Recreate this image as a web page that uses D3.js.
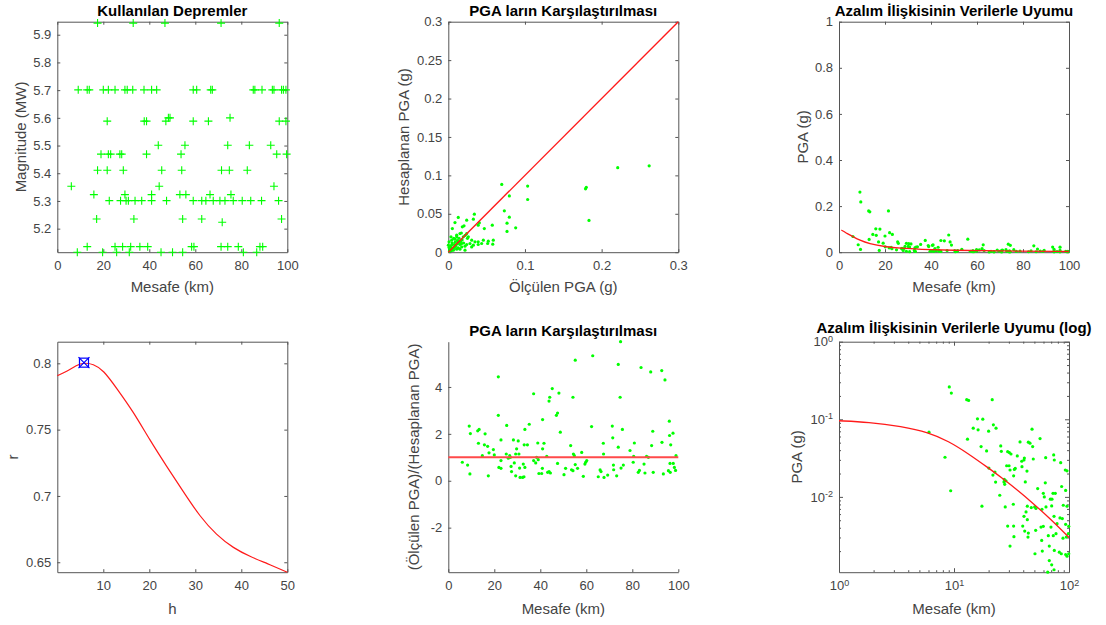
<!DOCTYPE html>
<html>
<head>
<meta charset="utf-8">
<script src="https://cdn.jsdelivr.net/npm/d3@7"></script>
<style>
body { margin: 0; background: #fff; }
svg text { font-family: "Liberation Sans", Arial, Helvetica, sans-serif; }
.ax path.domain { stroke: #555; stroke-width: 1; }
.ax .tick line { stroke: #555; }
.ax .tick text { font-size: 13px; fill: #444; }
</style>
</head>
<body>
<script>
// --- panel 1: earthquakes used (magnitude levels and distances at each level)
const magLevels = [5.942, 5.701, 5.600, 5.588, 5.501, 5.469, 5.411, 5.353, 5.323, 5.301, 5.235, 5.223, 5.135, 5.115];
const magDistances = [
    [17.5, 33.0, 46.8, 71.2, 96.5],
    [9.1, 13.0, 13.9, 20.0, 22.2, 25.1, 29.4, 30.4, 32.8, 37.7, 41.0, 43.2, 59.1, 60.6, 66.7, 67.4, 85.2, 85.9, 89.0, 93.5, 94.2, 97.5, 98.3, 99.4],
    [48.3, 49.0, 75.1],
    [21.7, 37.8, 38.8, 47.2, 59.1, 65.7, 96.5, 99.4],
    [43.9, 55.5, 74.1, 83.5, 92.8],
    [19.0, 22.2, 23.2, 27.2, 28.0, 38.8, 53.8, 95.4, 99.7],
    [17.5, 21.7, 28.7, 45.4, 54.1, 71.4, 74.8, 82.6],
    [6.1, 44.3, 94.2],
    [15.9, 29.4, 41.0, 53.3, 55.9, 66.4, 75.5],
    [22.6, 27.5, 29.9, 30.9, 33.8, 36.7, 41.0, 47.5, 59.1, 62.8, 64.6, 67.8, 70.7, 72.9, 76.5, 80.4, 84.1, 88.8, 96.2],
    [17.1, 33.3, 54.5, 62.8, 97.5],
    [71.7],
    [13.0, 25.1, 28.4, 31.9, 35.9, 39.3, 58.4, 59.4, 71.2, 74.1, 78.7, 88.1, 89.3],
    [8.7, 19.7, 25.8, 31.3, 45.1, 50.1, 54.5, 80.9, 86.7]
];

// --- panel 2: measured vs predicted PGA (g)
const measuredPGA = [0.262, 0.221, 0.179, 0.180, 0.1835, 0.0697, 0.1035, 0.1035, 0.0796, 0.0731, 0.0796, 0.0766, 0.0766, 0.0879,
    0.013, 0.0053, 0.0087, 0.0183, 0.0205, 0.024, 0.034, 0.0327, 0.039, 0.0405, 0.047, 0.0574,
    0.039, 0.0457, 0.0522, 0.0587, 0.058, 0.0513, 0.0435, 0.0348, 0.0305, 0.0283, 0.024, 0.0174, 0.013, 0.0087, 0.0044, 0.001,
    0.0044, 0.0087, 0.013, 0.0174, 0.0218, 0.0022, 0.0066, 0.0109, 0.0152, 0.0001, 0.0196, 0.024, 0.0152, 0.0109, 0.0035,
    0.0261, 0.0327, 0.0305, 0.039, 0.0218, 0.0152,
    0.002, 0.004, 0.006, 0.003, 0.008, 0.005, 0.01, 0.012, 0.007, 0.015, 0.018, 0.02, 0.003, 0.001, 0.009, 0.014, 0.022,
    0.025, 0.017, 0.011, 0.0015, 0.0045, 0.0075, 0.012, 0.016];
const predictedPGA = [0.1124, 0.110, 0.0825, 0.0845, 0.0413, 0.0882, 0.086, 0.0686, 0.0733, 0.0538, 0.0456, 0.0378, 0.027, 0.0317,
    0.0452, 0.0308, 0.0386, 0.033, 0.0343, 0.0417, 0.0495, 0.043, 0.0352, 0.0382, 0.0308, 0.0352,
    0.0135, 0.0156, 0.0143, 0.0156, 0.0104, 0.0113, 0.0113, 0.0135, 0.0156, 0.0113, 0.01, 0.0113, 0.0135, 0.017, 0.0156, 0.0135,
    0.0091, 0.0069, 0.0056, 0.0069, 0.0078, 0.0048, 0.0026, 0.0039, 0.0039, 0.0091, 0.02, 0.0243, 0.0243, 0.0222, 0.02,
    0.02, 0.0091, 0.0069, 0.01, 0.0026, 0.01,
    0.003, 0.005, 0.004, 0.008, 0.01, 0.012, 0.008, 0.015, 0.018, 0.012, 0.016, 0.012, 0.002, 0.006, 0.013, 0.018, 0.022,
    0.018, 0.025, 0.02, 0.0015, 0.0025, 0.0055, 0.011, 0.014];
const diagonal = [0, 0.3];

// --- panels 3 and 6: recorded PGA against distance, and the fitted attenuation curve
const recDistance = [9.1, 9.48, 12.9, 13.4, 21.5, 16.0, 17.8, 14.7, 16.2, 22.0,
    23.2, 20.0, 47.7, 6.06, 13.1, 17.2, 19.2, 25.5, 25.8, 37.5,
    44.3, 45.8, 48.3, 56.0, 29.3, 30.3, 31.3, 35.5, 40.9, 38.8,
    40.6, 48.9, 62.7, 73.6, 74.5, 84.7, 8.35, 28.7, 30.1, 34.1,
    33.5, 30.7, 43.1, 39.0, 20.1, 22.7, 21.8, 27.4, 27.2, 27.6,
    28.3, 23.0, 41.7, 33.0, 62.2, 92.9, 96.1, 9.36, 25.0, 53.4,
    59.8, 61.0, 72.6, 76.0, 68.8, 71.1, 86.3, 93.5, 17.5, 27.9,
    32.8, 43.4, 42.3, 47.0, 50.3, 51.6, 58.2, 63.1, 70.7, 89.2,
    96.1, 40.6, 43.4, 74.1, 83.5, 87.5, 29.3, 33.0, 39.6, 57.1,
    59.8, 69.7, 78.7, 93.5, 99.5, 41.2, 44.3, 51.3, 66.1, 73.0,
    77.1, 88.7, 94.8, 98.6, 33.2, 30.7, 44.0, 57.9, 50.6, 58.6,
    67.4, 74.5, 82.4, 85.7, 93.5, 96.1, 99.5, 67.4, 70.7, 74.1, 65.3];
const recPGA = [0.261, 0.218, 0.179, 0.175, 0.179, 0.1015, 0.1005, 0.0769, 0.0731, 0.0849,
    0.0769, 0.0703, 0.0746, 0.0682, 0.0554, 0.0445, 0.0391, 0.0454, 0.0387, 0.0511,
    0.0507, 0.0492, 0.0445, 0.0565, 0.0383, 0.0372, 0.0357, 0.0337, 0.0317, 0.0288,
    0.0299, 0.0308, 0.0320, 0.0347, 0.0299, 0.0276, 0.0324, 0.0252, 0.0252, 0.0233,
    0.0226, 0.0222, 0.0215, 0.0245, 0.0235, 0.0209, 0.0191, 0.0168, 0.0156, 0.0145,
    0.0161, 0.0155, 0.0156, 0.0187, 0.0152, 0.0222, 0.0217, 0.0120, 0.0105, 0.0128,
    0.0111, 0.0100, 0.0111, 0.0111, 0.00933, 0.00933, 0.0136, 0.0121, 0.00758, 0.00742,
    0.00804, 0.00758, 0.00640, 0.00729, 0.00742, 0.00708, 0.00693, 0.00742, 0.00764, 0.00780,
    0.00758, 0.00562, 0.00509, 0.00562, 0.00535, 0.00525, 0.00421, 0.00421, 0.00421, 0.00408,
    0.00417, 0.00408, 0.00452, 0.00443, 0.00417, 0.00363, 0.00342, 0.00371, 0.00316, 0.00316,
    0.00336, 0.00294, 0.00303, 0.00336, 0.00307, 0.00232, 0.00303, 0.00275, 0.00185, 0.00200,
    0.00232, 0.00204, 0.00194, 0.00185, 0.00181, 0.00172, 0.00185, 0.00151, 0.00133, 0.00115, 0.00107];
const fitDistance = [1, 1.8, 3.5, 6, 9, 13, 20, 27, 35, 49, 68, 100];
const fitPGA = [0.0957, 0.092, 0.081, 0.068, 0.052, 0.037, 0.0235, 0.0169, 0.0125, 0.0082, 0.0053, 0.0030];

// --- panel 4: correlation r against depth h
const hValues = [0, 2, 4.2, 5.8, 7.8, 10, 12.9, 16.5, 20.1, 23.8, 27.4, 31, 34.6, 38.3, 41.9, 45.5, 50];
const rValues = [0.7907, 0.7937, 0.7987, 0.8005, 0.7995, 0.795, 0.7812, 0.7636, 0.7422, 0.7221, 0.7033, 0.6844, 0.6706, 0.6606, 0.6543, 0.6492, 0.6425];
const bestH = [5.8];
const bestR = [0.8005];

// --- panel 5: measured / predicted ratio against distance
const ratioDistance = [6.1, 8.4, 9.4, 9.1, 9.6, 12.8, 13.4, 13.1, 14.8, 16.0,
    15.7, 17.1, 17.7, 17.4, 19.6, 20.0, 21.75, 21.75, 22.9, 22.0,
    22.9, 22.9, 25.4, 25.2, 26.1, 26.7, 27.0, 27.3, 27.5, 28.3,
    28.7, 29.3, 29.7, 29.3, 30.4, 30.7, 31.0, 31.2, 32.3, 32.9,
    33.0, 32.6, 33.3, 33.3, 34.4, 35.2, 37.1, 37.1, 38.0, 38.4,
    38.9, 39.1, 39.4, 40.6, 41.0, 41.0, 40.9, 41.6, 42.8, 43.2,
    43.8, 44.4, 43.8, 44.1, 45.2, 47.0, 47.5, 48.1, 48.7, 47.5,
    50.3, 51.0, 53.2, 53.6, 54.2, 54.2, 54.4, 54.8, 55.2, 55.2,
    56.2, 58.0, 58.7, 59.4, 59.7, 60.2, 62.3, 62.8, 65.2, 66.0,
    66.4, 67.4, 67.5, 67.7, 69.3, 71.3, 71.5, 71.8, 71.9, 73.2,
    73.9, 73.9, 74.7, 74.9, 75.1, 75.7, 76.1, 79.0, 80.6, 80.9,
    80.4, 82.6, 83.1, 83.8, 85.1, 85.5, 86.2, 87.0, 88.4, 88.9,
    89.1, 88.0, 92.8, 92.9, 93.5, 94.2, 95.7, 96.1, 96.2, 96.4,
    96.5, 96.7, 97.7, 97.8, 98.3, 98.8, 99.0];
const ratioValue = [0.79, 0.67, 0.29, 2.33, 2.01, 2.13, 2.19, 1.6, 1.07, 2.0,
    1.53, 1.47, 1.19, 0.21, 1.33, 1.1, 4.43, 2.79, 1.74, 0.57,
    0.53, 0.86, 2.36, 1.14, 0.96, 1.07, 1.0, 0.61, 0.39, 1.74,
    0.76, 0.21, 1.36, 1.14, 1.7, 1.14, 0.54, 0.14, 0.14, 0.17,
    1.53, 0.71, 0.57, 2.19, 1.53, 2.41, 3.71, 0.86, 0.76, 1.0,
    1.61, 0.9, 0.31, 0.31, 1.36, 2.61, 0.53, 1.6, 1.04, 0.36,
    0.39, 0.33, 3.4, 3.56, 3.93, 2.79, 2.89, 3.74, 2.07, 0.74,
    0.26, 0.53, 1.5, 0.47, 0.43, 3.56, 1.14, 1.07, 5.14, 0.69,
    0.53, 1.21, 0.19, 0.71, 0.79, 0.86, 2.31, 5.33, 0.17, 0.46,
    0.39, 1.6, 1.14, 0.14, 0.24, 2.33, 1.83, 0.67, 0.47, 0.21,
    1.43, 4.96, 3.56, 5.93, 0.54, 2.19, 0.67, 1.29, 1.04, 1.61,
    0.79, 0.36, 0.44, 4.83, 0.71, 0.33, 1.04, 1.0, 1.5, 2.11,
    0.36, 4.64, 4.7, 1.64, 0.29, 4.3, 0.43, 2.54, 1.93, 0.74,
    0.36, 1.53, 2.03, 0.74, 0.57, 0.44, 1.07];
const unityX = [0, 100];
const unityY = [1, 1];

const GREEN = '#00ff00';
const RED = '#ff1a1a';
const PW = 230, PH = 230.5;
const colX = [57.3, 448.3, 839];
const rowY = [21.7, 341.7];

var svg = d3.select('body')
    .append('svg')
    .attr('width', 1106)
    .attr('height', 625);

function panel(col, row) {
    return svg.append('g')
        .attr('transform', 'translate(' + colX[col] + ',' + rowY[row] + ')');
}

const fmt = d => String(+d.toFixed(3));
const none = () => '';

// MATLAB-ish box: ticks point inwards, optional top/right copies
function addAxes(g, xs, ys, o) {
    let bottom = g.append('g').attr('class', 'ax')
        .attr('transform', 'translate(0,' + PH + ')')
        .call(d3.axisBottom(xs).tickValues(o.xTicks).tickFormat(o.xFmt || fmt)
            .tickSizeInner(-3).tickSizeOuter(0).tickPadding(9));
    let left = g.append('g').attr('class', 'ax')
        .call(d3.axisLeft(ys).tickValues(o.yTicks).tickFormat(o.yFmt || fmt)
            .tickSizeInner(-3).tickSizeOuter(0).tickPadding(6));
    let all = [bottom, left];
    if (o.box) {
        all.push(g.append('g').attr('class', 'ax')
            .call(d3.axisTop(xs).tickValues(o.xTicks).tickFormat(none)
                .tickSizeInner(-3).tickSizeOuter(0)));
        all.push(g.append('g').attr('class', 'ax')
            .attr('transform', 'translate(' + PW + ',0)')
            .call(d3.axisRight(ys).tickValues(o.yTicks).tickFormat(none)
                .tickSizeInner(-3).tickSizeOuter(0)));
    }
    return {bottom: bottom, left: left, all: all};
}

function labels(g, title, xLabel, yLabel, yOff, xOff, tOff) {
    if (title) {
        g.append('text').attr('x', PW / 2).attr('y', tOff || -6)
            .attr('text-anchor', 'middle').attr('font-size', '15px')
            .attr('font-weight', 'bold').attr('fill', '#000').text(title);
    }
    g.append('text').attr('x', PW / 2).attr('y', PH + xOff)
        .attr('text-anchor', 'middle').attr('font-size', '15px')
        .attr('fill', '#444').text(xLabel);
    g.append('text')
        .attr('transform', 'translate(' + yOff + ',' + (PH / 2) + ') rotate(-90)')
        .attr('text-anchor', 'middle').attr('font-size', '15px')
        .attr('fill', '#444').text(yLabel);
}

function dots(g, xs, ys, xv, yv) {
    g.append('g').selectAll('circle')
        .data(xv.map((x, i) => ({x: x, y: yv[i]})))
        .enter()
        .append('circle')
        .attr('cx', d => xs(d.x))
        .attr('cy', d => ys(d.y))
        .attr('r', 1.6)
        .attr('fill', GREEN);
}

function curve(g, xs, ys, xv, yv, color, width, shape) {
    let line = d3.line()
        .x(d => xs(d[0]))
        .y(d => ys(d[1]))
        .curve(shape || d3.curveLinear);
    g.append('path')
        .datum(xv.map((x, i) => [x, yv[i]]))
        .attr('d', line)
        .attr('fill', 'none')
        .attr('stroke', color)
        .attr('stroke-width', width);
}

const ticks100 = [0, 20, 40, 60, 80, 100];

// ---------- panel 1
{
    let g = panel(0, 0);
    let x = d3.scaleLinear().domain([0, 100]).range([0, PW]);
    let y = d3.scaleLinear().domain([5.115, 5.947]).range([PH, 0]);
    addAxes(g, x, y, {xTicks: ticks100, yTicks: [5.2, 5.3, 5.4, 5.5, 5.6, 5.7, 5.8, 5.9],
        yFmt: d => d.toFixed(1), box: true});
    let pts = magLevels.flatMap((m, i) => magDistances[i].map(d => ({d: d, m: m})));
    g.append('g').selectAll('path')
        .data(pts)
        .enter()
        .append('path')
        .attr('d', d => 'M' + (x(d.d) - 4) + ',' + y(d.m) + 'h8M' + x(d.d) + ',' + (y(d.m) - 4) + 'v8')
        .attr('stroke', GREEN)
        .attr('stroke-width', 1.1)
        .attr('fill', 'none');
    labels(g, 'Kullanılan Depremler', 'Mesafe (km)', 'Magnitude (MW)', -31, 39.5);
}

// ---------- panel 2
{
    let g = panel(1, 0);
    let x = d3.scaleLinear().domain([0, 0.3]).range([0, PW]);
    let y = d3.scaleLinear().domain([0, 0.3]).range([PH, 0]);
    addAxes(g, x, y, {xTicks: [0, 0.1, 0.2, 0.3], yTicks: [0, 0.05, 0.1, 0.15, 0.2, 0.25, 0.3], box: true});
    dots(g, x, y, measuredPGA, predictedPGA);
    curve(g, x, y, diagonal, diagonal, RED, 1.4);
    labels(g, 'PGA ların Karşılaştırılması', 'Ölçülen PGA (g)', 'Hesaplanan PGA (g)', -39.7, 39.5);
}

// ---------- panel 3
{
    let g = panel(2, 0);
    let x = d3.scaleLinear().domain([0, 100]).range([0, PW]);
    let y = d3.scaleLinear().domain([0, 1]).range([PH, 0]);
    addAxes(g, x, y, {xTicks: ticks100, yTicks: [0, 0.2, 0.4, 0.6, 0.8, 1], box: true});
    dots(g, x, y, recDistance, recPGA);
    curve(g, x, y, fitDistance, fitPGA, RED, 1.3, d3.curveBasis);
    labels(g, 'Azalım İlişkisinin Verilerle Uyumu', 'Mesafe (km)', 'PGA (g)', -31, 39.5);
}

// ---------- panel 4
{
    let g = panel(0, 1);
    let x = d3.scaleLinear().domain([0, 50]).range([0, PW]);
    let y = d3.scaleLinear().domain([0.6425, 0.8163]).range([PH, 0]);
    addAxes(g, x, y, {xTicks: [10, 20, 30, 40, 50], yTicks: [0.65, 0.7, 0.75, 0.8], box: true});
    curve(g, x, y, hValues, rValues, RED, 1.2, d3.curveBasis);
    let m = g.append('g').selectAll('g')
        .data(bestH.map((h, i) => ({h: h, r: bestR[i]})))
        .enter()
        .append('g')
        .attr('transform', d => 'translate(' + x(d.h) + ',' + y(d.r) + ')');
    m.append('rect').attr('x', -4.5).attr('y', -4.5).attr('width', 9).attr('height', 9)
        .attr('fill', 'none').attr('stroke', '#0000ff').attr('stroke-width', 1.2);
    m.append('path').attr('d', 'M-5.5,-5.5L5.5,5.5M-5.5,5.5L5.5,-5.5')
        .attr('stroke', '#0000ff').attr('stroke-width', 1.2);
    labels(g, null, 'h', 'r', -39.3, 41.5);
}

// ---------- panel 5
{
    let g = panel(1, 1);
    let x = d3.scaleLinear().domain([0, 100]).range([0, PW]);
    let y = d3.scaleLinear().domain([-3.9, 5.93]).range([PH, 0]);
    addAxes(g, x, y, {xTicks: ticks100, yTicks: [-2, 0, 2, 4], yFmt: d => String(d), box: false});
    dots(g, x, y, ratioDistance, ratioValue);
    curve(g, x, y, unityX, unityY, '#ff4a4a', 2);
    labels(g, 'PGA ların Karşılaştırılması', 'Mesafe (km)', '(Ölçülen PGA)/(Hesaplanan PGA)', -29.7, 41.5);
}

// ---------- panel 6 (log-log)
{
    let g = panel(2, 1);
    let x = d3.scaleLog().domain([1, 100]).range([0, PW]);
    let y = d3.scaleLog().domain([0.00107, 1]).range([PH, 0]);
    const isDecade = d => Math.abs(Math.log10(d) - Math.round(Math.log10(d))) < 1e-9;
    const decFmt = d => isDecade(d) ? '10' : '';
    let ax = addAxes(g, x, y, {xTicks: x.ticks(), yTicks: y.ticks(), xFmt: decFmt, yFmt: decFmt, box: true});
    ax.all.forEach(a => {
        a.selectAll('.tick line').each(function (d) {
            let l = d3.select(this);
            let k = isDecade(d) ? 4 / 3 : 2 / 3;
            ['x2', 'y2'].forEach(att => {
                let v = +l.attr(att);
                if (v) l.attr(att, v * k);
            });
        });
    });
    [ax.bottom, ax.left].forEach(a => {
        a.selectAll('.tick text').filter(d => isDecade(d))
            .append('tspan')
            .attr('dy', '-0.5em')
            .attr('font-size', '9px')
            .text(d => Math.round(Math.log10(d)));
    });
    dots(g, x, y, recDistance, recPGA);
    curve(g, x, y, fitDistance, fitPGA, RED, 1.3, d3.curveBasis);
    labels(g, 'Azalım İlişkisinin Verilerle Uyumu (log)', 'Mesafe (km)', 'PGA (g)', -37, 41.5, -9);
}
</script>
</body>
</html>
